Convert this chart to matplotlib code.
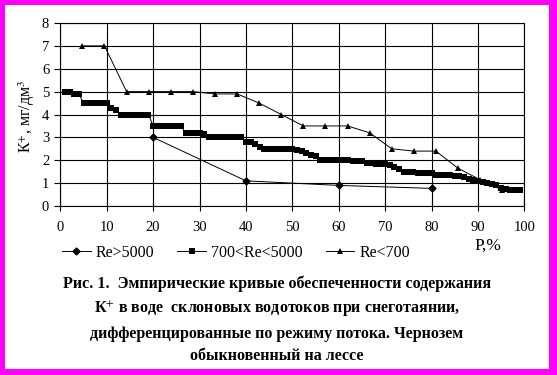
import matplotlib
matplotlib.use("Agg")
import matplotlib.pyplot as plt
from matplotlib.patches import Rectangle

plt.rcParams['font.family'] = ['Liberation Serif', 'DejaVu Serif']
plt.rcParams['mathtext.fontset'] = 'stix'

# Re>5000
high_p = [20, 40, 60, 80]
high_k = [3.0, 1.1, 0.9, 0.77]

# 700<Re<5000
mid_p = list(range(1, 100))
mid_k = [5.0, 5.0, 4.9, 4.9, 4.5, 4.5, 4.5, 4.5, 4.5, 4.5,
         4.3, 4.2, 4.0, 4.0, 4.0, 4.0, 4.0, 4.0, 4.0, 3.5,
         3.5, 3.5, 3.5, 3.5, 3.5, 3.5, 3.2, 3.2, 3.2, 3.2,
         3.15, 3.0, 3.0, 3.0, 3.0, 3.0, 3.0, 3.0, 3.0, 2.8,
         2.8, 2.7, 2.6, 2.5, 2.5, 2.5, 2.5, 2.5, 2.5, 2.5,
         2.45, 2.4, 2.3, 2.25, 2.2, 2.0, 2.0, 2.0, 2.0, 2.0,
         2.0, 2.0, 1.95, 1.95, 1.95, 1.9, 1.9, 1.85, 1.85, 1.85,
         1.8, 1.7, 1.6, 1.5, 1.5, 1.5, 1.45, 1.45, 1.45, 1.45,
         1.35, 1.35, 1.35, 1.35, 1.3, 1.3, 1.25, 1.2, 1.15, 1.1,
         1.05, 1.0, 0.95, 0.9, 0.8, 0.75, 0.7, 0.7, 0.7]

# Re<700
low_p = [4.76, 9.52, 14.29, 19.05, 23.81, 28.57, 33.33, 38.1, 42.86, 47.62,
         52.38, 57.14, 61.9, 66.67, 71.43, 76.19, 80.95, 85.71, 90.48, 95.24]
low_k = [7.0, 7.0, 5.0, 5.0, 5.0, 5.0, 4.9, 4.9, 4.5, 4.0,
         3.5, 3.5, 3.5, 3.2, 2.5, 2.4, 2.4, 1.65, 1.15, 0.7]

labels = ["Re>5000", "700<Re<5000", "Re<700"]

caption = ("Рис. 1.  Эмпирические кривые обеспеченности содержания\n"
           "К$^{+}$ в воде  склоновых водотоков при снеготаянии,\n"
           "дифференцированные по режиму потока. Чернозем\n"
           "обыкновенный на лессе")

W, H = 557, 375
fig = plt.figure(figsize=(W / 100, H / 100), dpi=100, facecolor='#ff00ff')
# white page inside the magenta frame
fig.patches.append(Rectangle((5 / W, 6 / H), (W - 13) / W, (H - 11) / H,
                             transform=fig.transFigure, facecolor='white',
                             edgecolor='none', zorder=-5))

ax = fig.add_axes([60.3 / W, (H - 206) / H, 464 / W, 183 / H], zorder=2)
ax.set_facecolor('white')

ax.plot(high_p, high_k, color='black', lw=0.7, marker='D', ms=3.5,
        label=labels[0], zorder=4)
ax.plot(mid_p, mid_k, color='black', lw=0.7, marker='s', ms=4.8, mew=0,
        label=labels[1], zorder=3)
ax.plot(low_p, low_k, color='black', lw=0.7, marker='^', ms=4.0, mew=0,
        label=labels[2], zorder=4)

ax.set_xlim(0, 100)
ax.set_ylim(0, 8)
ax.set_xticks(range(0, 101, 10))
ax.set_yticks(range(0, 9))
ax.grid(True, color='black', lw=0.8)
ax.set_axisbelow(True)
for s in ax.spines.values():
    s.set_color('black')
    s.set_linewidth(0.8)
ax.tick_params(axis='x', direction='inout', length=7, width=0.8, pad=7,
               labelsize=10.5)
ax.tick_params(axis='y', direction='out', length=4, width=0.8, pad=4,
               labelsize=10.5)

fig.text(27 / W, 1 - 116 / H, "К$^{+}$, мг/дм$^{3}$", rotation=90,
         ha='center', va='center', fontsize=11.5)
fig.text(488 / W, 1 - 246 / H, "P,%", ha='center', va='center', fontsize=12.5)

handles, labs = ax.get_legend_handles_labels()
fig.legend(handles, labs, loc='center', bbox_to_anchor=(236 / W, 1 - 253 / H),
           ncol=3, frameon=False, fontsize=11.5, handlelength=1.8,
           handletextpad=0.3, columnspacing=1.45, borderpad=0)

fig.text(277 / W, 1 - 320 / H, caption, ha='center', va='center',
         fontsize=11.5, fontweight='bold', linespacing=1.55)

fig.savefig("out.png", dpi=100, facecolor=fig.get_facecolor())
